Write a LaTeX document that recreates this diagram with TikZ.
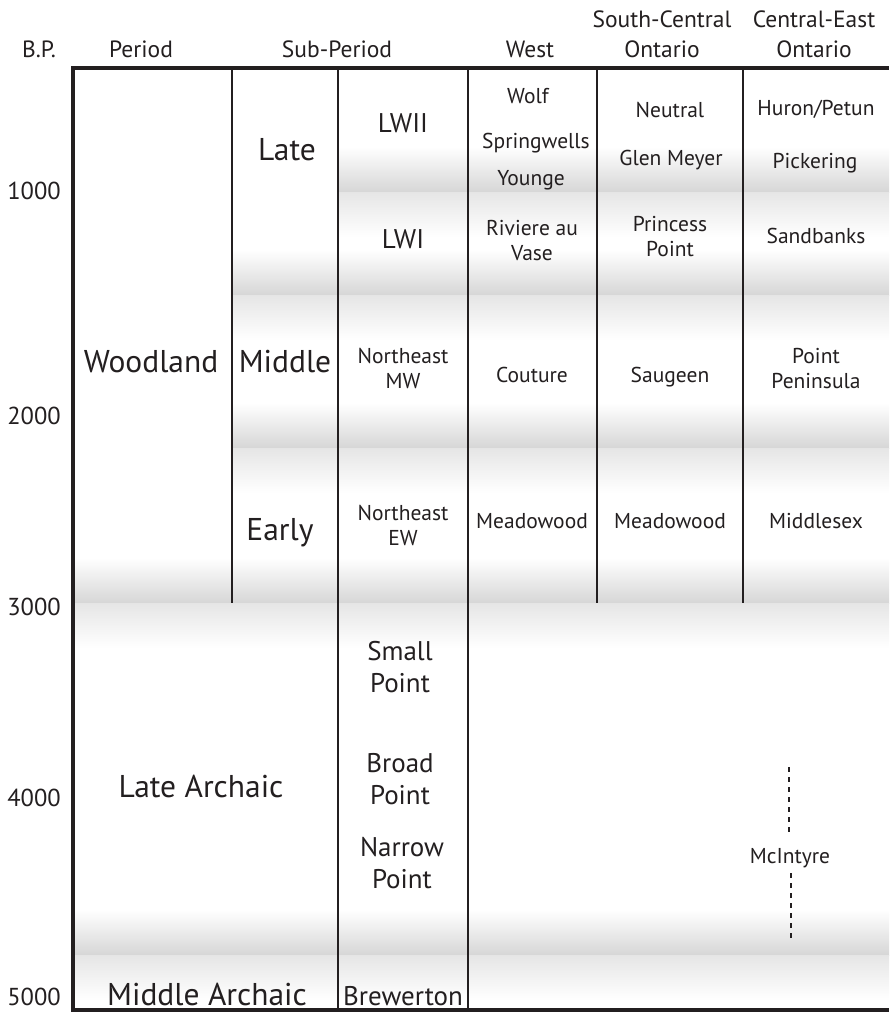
\documentclass[tikz,border=0pt]{standalone}
\usepackage{fontspec}
\setmainfont{PT Sans}
\definecolor{ink}{HTML}{231F20}
\newcommand\grayband[3]{%
  \shade[top color=white, bottom color=black!16] (#1,#3-45) rectangle (#2,#3);
  \shade[top color=black!10, bottom color=white] (#1,#3) rectangle (#2,#3+45);
}
\begin{document}
\begin{tikzpicture}[x=1pt,y=-1pt,
  every node/.style={inner sep=0pt, text=ink},
  hdr/.style={font=\fontsize{23.5}{30}\selectfont, anchor=base, align=center},
  big/.style={font=\fontsize{31.5}{36}\selectfont, anchor=base},
  mid/.style={font=\fontsize{27}{32}\selectfont, anchor=base, align=center},
  sml/.style={font=\fontsize{21.5}{25}\selectfont, anchor=base, align=center},
  yr/.style={font=\fontsize{24.5}{28}\selectfont, anchor=base},
  frame/.style={draw=ink, line width=4.5pt},
  rule/.style={draw=ink, line width=2.2pt},
  dashline/.style={draw=ink, line width=2.8pt, dash pattern=on 5pt off 5pt},
]
\useasboundingbox (0,0) rectangle (889,1012);
\fill[white] (0,0) rectangle (889,1012);

% gray bands
\grayband{338}{889}{192}
\grayband{232}{889}{295}
\grayband{232}{889}{448}
\grayband{73}{889}{603}
\grayband{73}{889}{955}

% frame and rules
\draw[frame] (71,68) -- (889,68);
\draw[frame] (73,66) -- (73,1012);
\draw[frame] (71,1010) -- (889,1010);
\draw[rule] (232,68) -- (232,603);
\draw[rule] (338,68) -- (338,1010);
\draw[rule] (468,68) -- (468,1010);
\draw[rule] (597,68) -- (597,603);
\draw[rule] (743,68) -- (743,603);

% header
\node[hdr] (bp) at (39,57) {B.P.};
\node[hdr] (period) at (141,57) {Period};
\node[hdr] (subperiod) at (337,57) {Sub-Period};
\node[hdr] (west) at (530,57) {West};
\node[hdr] (sc) at (662,57) {South-Central\\Ontario};
\node[hdr] (ce) at (814,57) {Central-East\\Ontario};

% years
\node[yr] (y1) at (34,199) {1000};
\node[yr] (y2) at (34,424) {2000};
\node[yr] (y3) at (34,615) {3000};
\node[yr] (y4) at (34,806) {4000};
\node[yr] (y5) at (34,1005) {5000};

% period / sub-period
\node[big] (woodland) at (151,372) {Woodland};
\node[big] (late) at (287,160) {Late};
\node[big] (middle) at (285,372) {Middle};
\node[big] (early) at (280,540) {Early};
\node[big] (latearchaic) at (201,797) {Late Archaic};
\node[big] (midarchaic) at (207,1005) {Middle Archaic};

% column 3
\node[mid] (lwii) at (403,132) {LWII};
\node[mid] (lwi) at (403,248) {LWI};
\node[sml] (nemw) at (403,388) {Northeast\\MW};
\node[sml] (neew) at (403,545) {Northeast\\EW};
\node[mid] (small) at (400,692) {Small\\Point};
\node[mid] (broad) at (400,804) {Broad\\Point};
\node[mid] (narrow) at (402,888) {Narrow\\Point};
\node[mid] (brewerton) at (403,1005) {Brewerton};

% West
\node[sml] (wolf) at (528,103) {Wolf};
\node[sml] (springwells) at (536,148) {Springwells};
\node[sml] (younge) at (531,185) {Younge};
\node[sml] (riviere) at (532,260) {Riviere au\\Vase};
\node[sml] (couture) at (532,382) {Couture};
\node[sml] (meadowA) at (532,528) {Meadowood};

% South-Central
\node[sml] (neutral) at (670,117) {Neutral};
\node[sml] (glen) at (671,165) {Glen Meyer};
\node[sml] (princess) at (670,256) {Princess\\Point};
\node[sml] (saugeen) at (670,382) {Saugeen};
\node[sml] (meadowB) at (670,528) {Meadowood};

% Central-East
\node[sml] (huron) at (816,115) {Huron/Petun};
\node[sml] (pickering) at (815,168) {Pickering};
\node[sml] (sandbanks) at (816,243) {Sandbanks};
\node[sml] (pp) at (816,388) {Point\\Peninsula};
\node[sml] (middlesex) at (816,528) {Middlesex};
\node[sml] (mcintyre) at (790,863) {McIntyre};

\coordinate (mcA) at (789,767);
\coordinate (mcB) at (789,833);
\coordinate (mcC) at (791,873);
\coordinate (mcD) at (791,940);
\draw[dashline] (mcA) -- (mcB);
\draw[dashline] (mcC) -- (mcD);
\end{tikzpicture}
\end{document}
